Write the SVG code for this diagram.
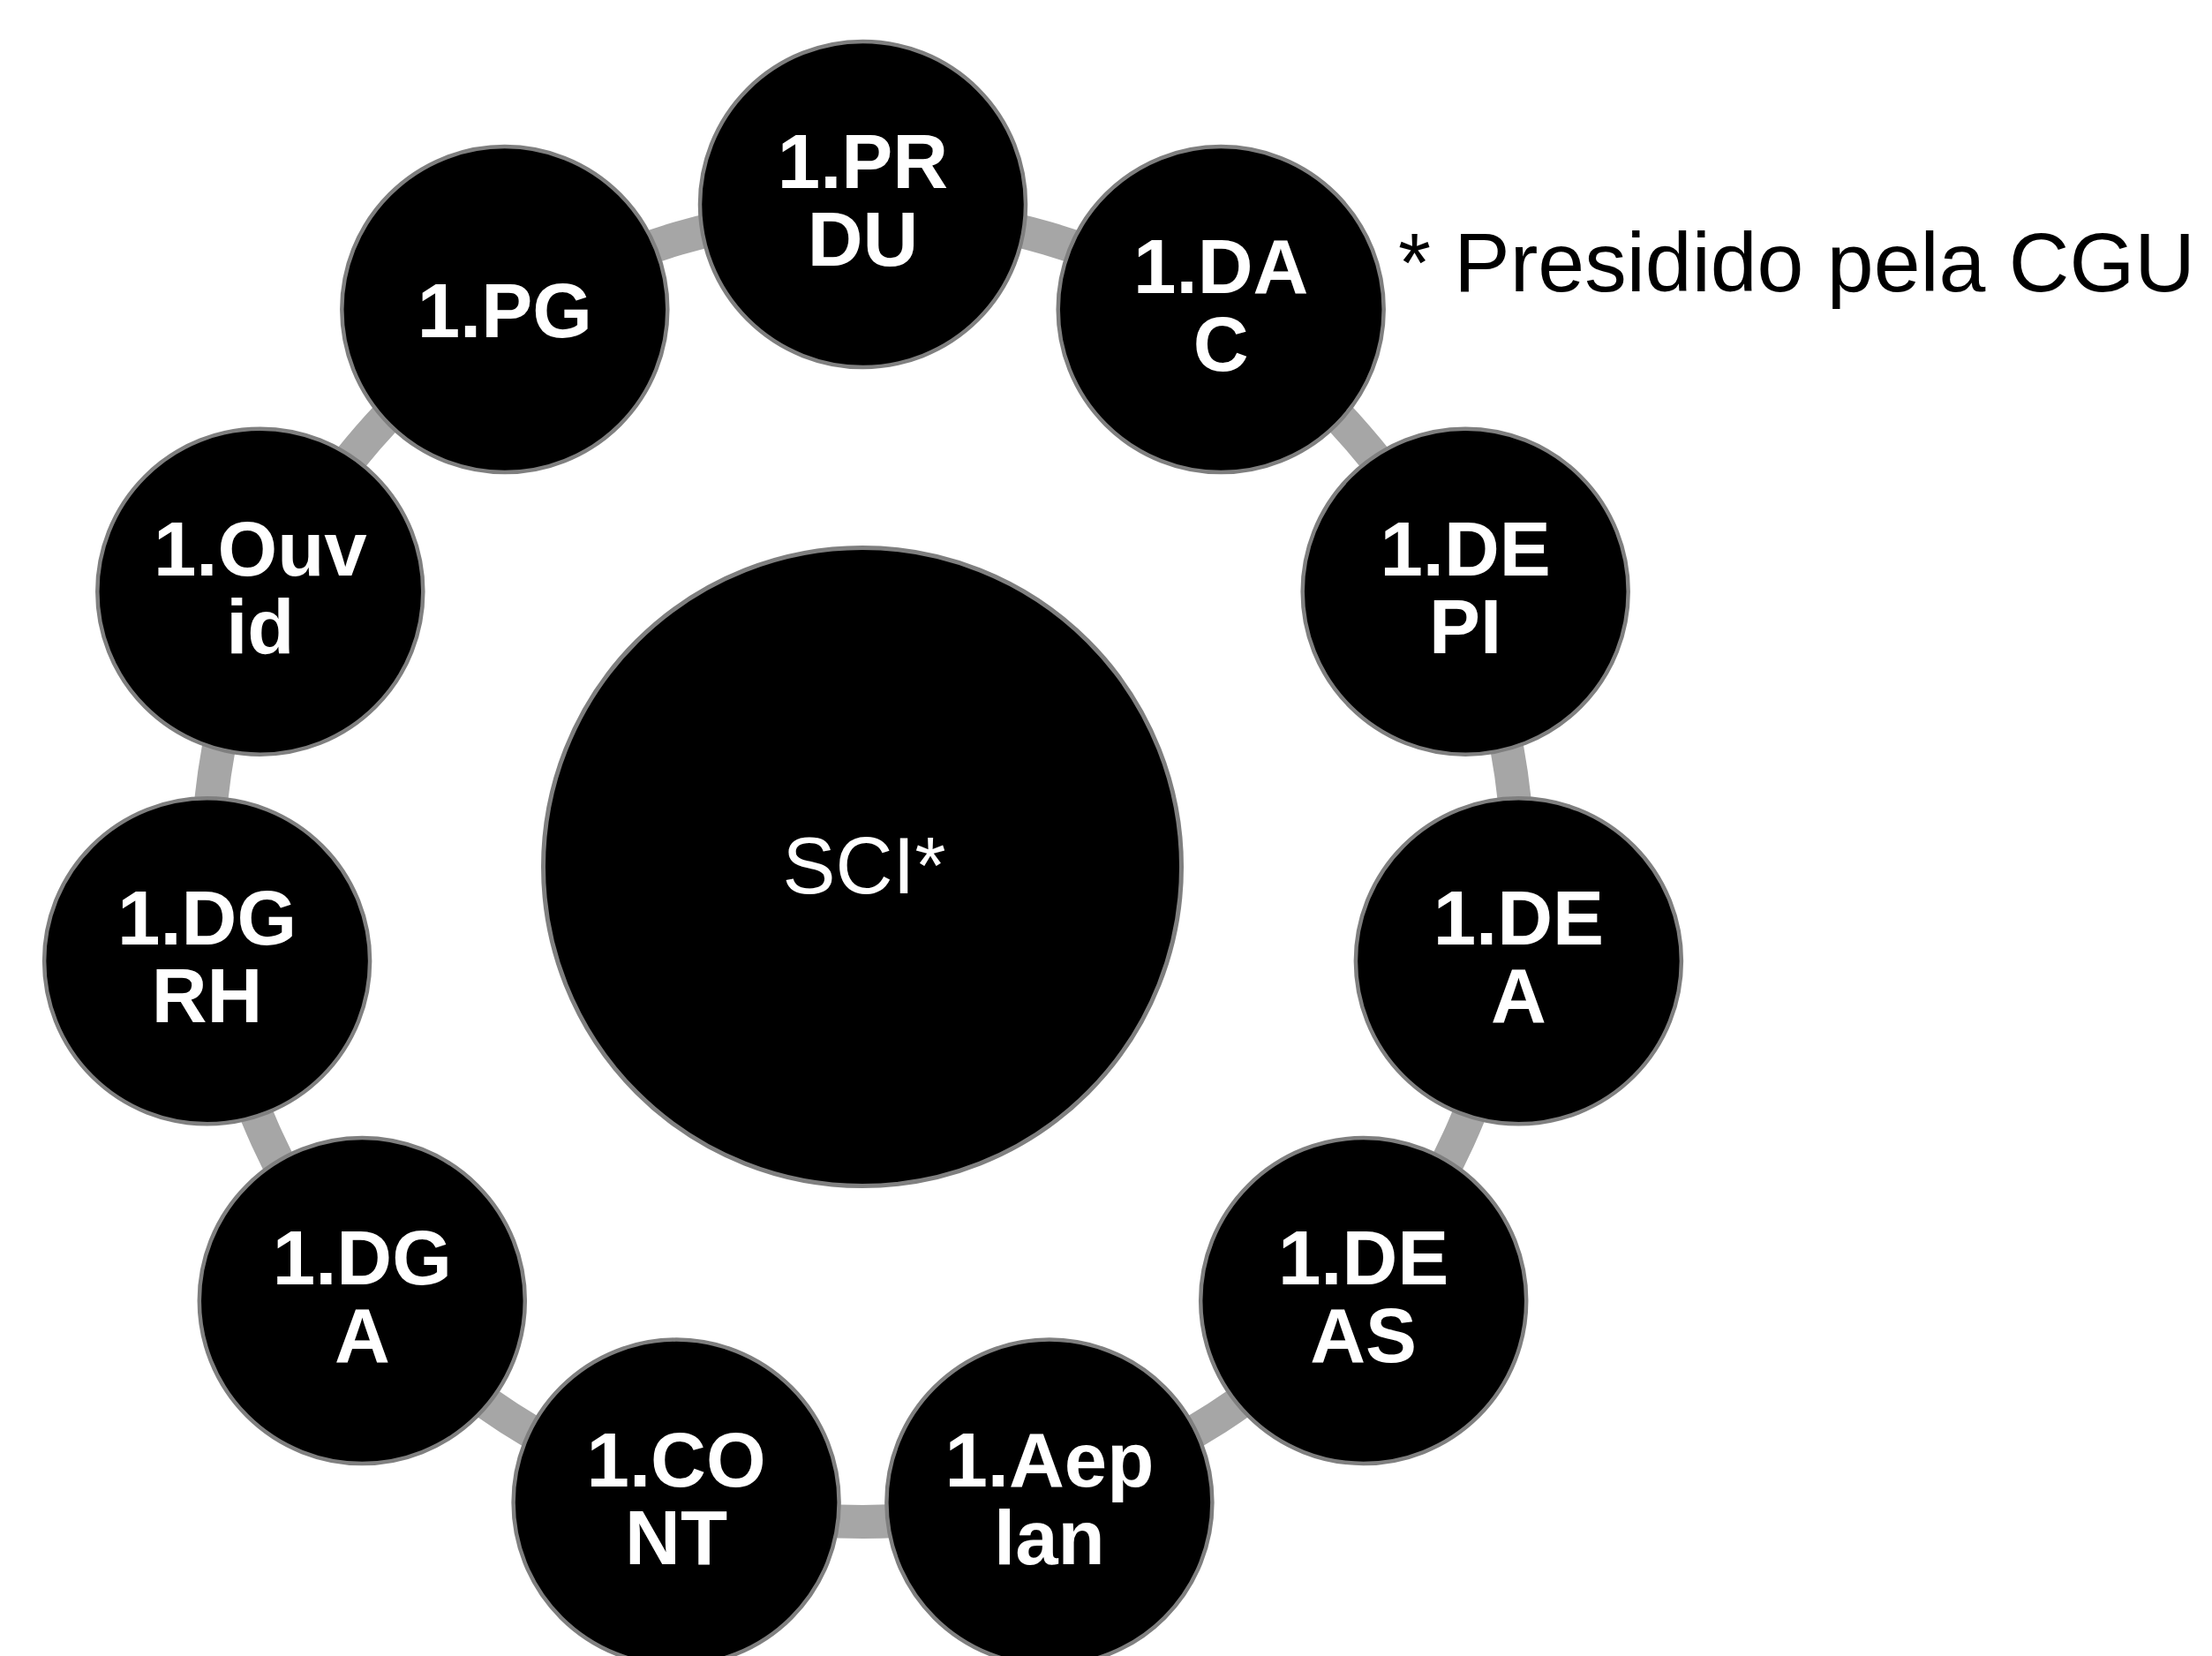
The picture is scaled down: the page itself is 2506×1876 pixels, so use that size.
<svg xmlns="http://www.w3.org/2000/svg" width="2506" height="1876" viewBox="0 0 2506 1876">
  <style>
    .conn { fill: none; stroke: #A6A6A6; stroke-width: 38; }
    .node { fill: #000000; stroke: #7F7F7F; stroke-width: 4.5; }
    .hub { fill: #000000; stroke: #7F7F7F; stroke-width: 5; }
    .lbl { font-family: "Liberation Sans", Arial, sans-serif; font-weight: bold; font-size: 87px; fill: #FFFFFF; text-anchor: middle; }
    .hublbl { font-family: "Liberation Sans", Arial, sans-serif; font-size: 90px; fill: #FFFFFF; text-anchor: middle; }
    .note { font-family: "Liberation Sans", Arial, sans-serif; font-size: 95px; fill: #000000; }
  </style>
  <rect x="0" y="0" width="2506" height="1876" fill="#FFFFFF"/>
  <g id="connectors">
    <path class="conn" d="M 977.5 240 A 742 742 0 0 1 1378.7 357.8"/>
    <path class="conn" d="M 1378.7 357.8 A 742 742 0 0 1 1652.5 673.8"/>
    <path class="conn" d="M 1652.5 673.8 A 742 742 0 0 1 1712 1087.6"/>
    <path class="conn" d="M 1712 1087.6 A 742 742 0 0 1 1538.3 1467.9"/>
    <path class="conn" d="M 1538.3 1467.9 A 742 742 0 0 1 1186.5 1693.9"/>
    <path class="conn" d="M 1186.5 1693.9 A 742 742 0 0 1 768.5 1693.9"/>
    <path class="conn" d="M 768.5 1693.9 A 742 742 0 0 1 416.7 1467.9"/>
    <path class="conn" d="M 416.7 1467.9 A 742 742 0 0 1 243 1087.6"/>
    <path class="conn" d="M 243 1087.6 A 742 742 0 0 1 302.5 673.8"/>
    <path class="conn" d="M 302.5 673.8 A 742 742 0 0 1 576.3 357.8"/>
    <path class="conn" d="M 576.3 357.8 A 742 742 0 0 1 977.5 240"/>
  </g>
  <g id="node-sci">
    <circle class="hub" cx="977" cy="982" r="361.5"/>
    <text class="hublbl" x="979" y="1012">SCI*</text>
  </g>
  <g id="node-prdu">
    <circle class="node" cx="977.5" cy="231.5" r="184.5"/>
    <text class="lbl" x="977.5" y="213">1.PR</text>
    <text class="lbl" x="977.5" y="301">DU</text>
  </g>
  <g id="node-dac">
    <circle class="node" cx="1383.2" cy="350.6" r="184.5"/>
    <text class="lbl" x="1383.2" y="332.1">1.DA</text>
    <text class="lbl" x="1383.2" y="420.1">C</text>
  </g>
  <g id="node-depi">
    <circle class="node" cx="1660.2" cy="670.2" r="184.5"/>
    <text class="lbl" x="1660.2" y="651.7">1.DE</text>
    <text class="lbl" x="1660.2" y="739.7">PI</text>
  </g>
  <g id="node-dea">
    <circle class="node" cx="1720.4" cy="1088.8" r="184.5"/>
    <text class="lbl" x="1720.4" y="1070.3">1.DE</text>
    <text class="lbl" x="1720.4" y="1158.3">A</text>
  </g>
  <g id="node-deas">
    <circle class="node" cx="1544.7" cy="1473.5" r="184.5"/>
    <text class="lbl" x="1544.7" y="1455">1.DE</text>
    <text class="lbl" x="1544.7" y="1543">AS</text>
  </g>
  <g id="node-aeplan">
    <circle class="node" cx="1188.9" cy="1702.1" r="184.5"/>
    <text class="lbl" x="1188.9" y="1683.6">1.Aep</text>
    <text class="lbl" x="1188.9" y="1771.6">lan</text>
  </g>
  <g id="node-cont">
    <circle class="node" cx="766.1" cy="1702.1" r="184.5"/>
    <text class="lbl" x="766.1" y="1683.6">1.CO</text>
    <text class="lbl" x="766.1" y="1771.6">NT</text>
  </g>
  <g id="node-dga">
    <circle class="node" cx="410.3" cy="1473.5" r="184.5"/>
    <text class="lbl" x="410.3" y="1455">1.DG</text>
    <text class="lbl" x="410.3" y="1543">A</text>
  </g>
  <g id="node-dgrh">
    <circle class="node" cx="234.6" cy="1088.8" r="184.5"/>
    <text class="lbl" x="234.6" y="1070.3">1.DG</text>
    <text class="lbl" x="234.6" y="1158.3">RH</text>
  </g>
  <g id="node-ouvid">
    <circle class="node" cx="294.8" cy="670.2" r="184.5"/>
    <text class="lbl" x="294.8" y="651.7">1.Ouv</text>
    <text class="lbl" x="294.8" y="739.7">id</text>
  </g>
  <g id="node-pg">
    <circle class="node" cx="571.8" cy="350.6" r="184.5"/>
    <text class="lbl" x="571.8" y="381.6">1.PG</text>
  </g>
  <g id="note">
    <text class="note" x="1584" y="330">* Presidido pela CGU</text>
  </g>
</svg>
